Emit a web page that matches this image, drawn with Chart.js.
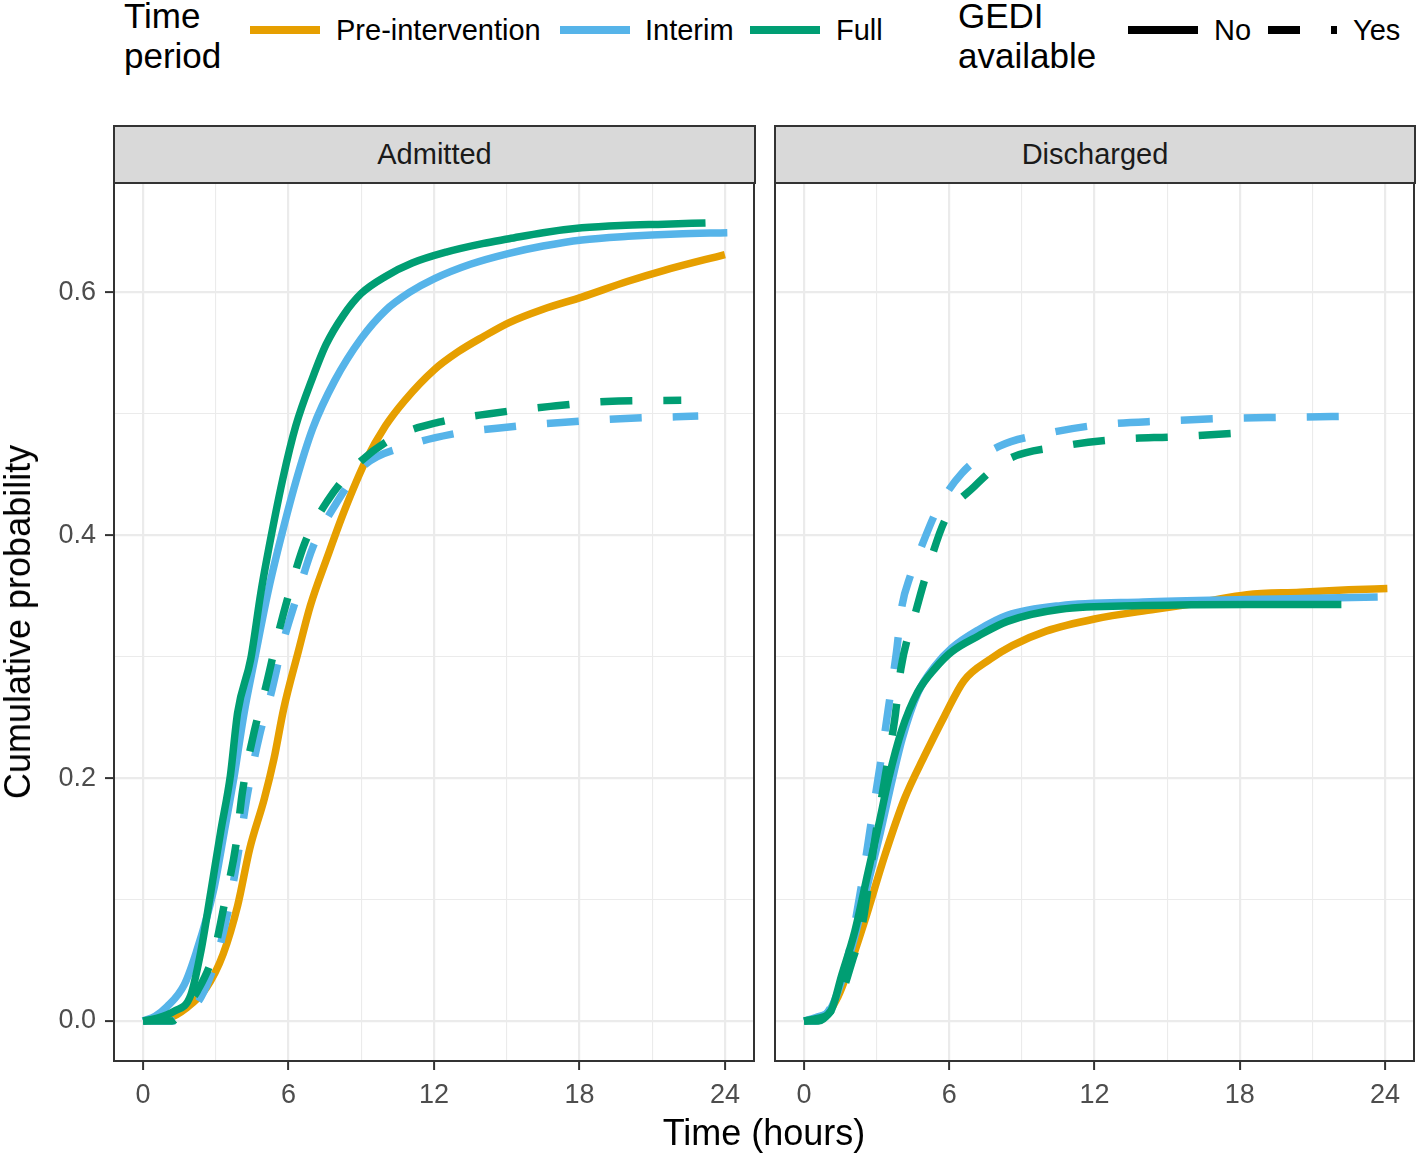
<!DOCTYPE html>
<html><head><meta charset="utf-8">
<script src="https://cdn.jsdelivr.net/npm/chart.js@4.4.0/dist/chart.umd.min.js"></script>
<style>
html,body{margin:0;padding:0;background:#fff;}
body{width:1418px;height:1156px;position:relative;overflow:hidden;font-family:"Liberation Sans",Arial,Helvetica,sans-serif;}
.abs{position:absolute;white-space:nowrap;}
.ltitle{font-size:35px;line-height:40px;color:#000;}
.llab{font-size:29px;line-height:29px;color:#000;}
.key{position:absolute;height:8px;top:26px;}
.strip{position:absolute;top:125px;height:59px;box-sizing:border-box;background:#D9D9D9;border:2px solid #333;display:flex;align-items:center;justify-content:center;font-size:29px;color:#1A1A1A;}
canvas{position:absolute;top:183px;}
</style>
</head><body>
<div class="abs ltitle" style="left:124px;top:-4px;">Time<br>period</div>
<div class="key" style="left:250px;width:70px;background:#E69F00;"></div>
<div class="abs llab" id="lab0" style="left:336px;top:16px;"></div>
<div class="key" style="left:560px;width:70px;background:#56B4E9;"></div>
<div class="abs llab" id="lab1" style="left:645px;top:16px;"></div>
<div class="key" style="left:750px;width:70px;background:#009E73;"></div>
<div class="abs llab" id="lab2" style="left:836px;top:16px;"></div>
<div class="abs ltitle" style="left:958px;top:-4px;">GEDI<br>available</div>
<div class="key" style="left:1128px;width:70px;background:#000;"></div>
<div class="abs llab" id="glab0" style="left:1214px;top:16px;"></div>
<div class="key" style="left:1268px;width:32px;background:#000;"></div>
<div class="key" style="left:1331px;width:6px;background:#000;"></div>
<div class="abs llab" id="glab1" style="left:1353px;top:16px;"></div>

<div class="strip" id="strip0" style="left:113px;width:643px;"></div>
<div class="strip" id="strip1" style="left:774px;width:642px;"></div>

<canvas id="c1" width="760" height="973" style="left:0px;"></canvas>
<canvas id="c2" width="658" height="973" style="left:760px;"></canvas>

<div class="abs" style="left:764px;top:1115px;transform:translateX(-50%);font-size:36px;line-height:36px;color:#000;">Time (hours)</div>
<div class="abs" style="left:18px;top:622px;transform:translate(-50%,-50%) rotate(-90deg);font-size:36px;line-height:36px;color:#000;">Cumulative probability</div>

<script>
// ---- Labels ----
const periodLabels = ['Pre-intervention', 'Interim', 'Full'];
const gediLabels = ['No', 'Yes'];
const facetLabels = ['Admitted', 'Discharged'];
const xTickValues = [0, 6, 12, 18, 24];
const xTickLabels = ['0', '6', '12', '18', '24'];
const xMinorValues = [3, 9, 15, 21];
const yTickValues = [0, 0.2, 0.4, 0.6];
const yTickLabels = ['0.0', '0.2', '0.4', '0.6'];
const yMinorValues = [0.1, 0.3, 0.5];

// ---- Admitted panel ----
const admPreNoT = [0, 1.0, 1.8, 2.6, 3.3, 3.9, 4.4, 5.0, 5.4, 5.8, 6.4, 6.9, 7.6, 8.3, 9.2, 10.0, 10.8, 12.0, 13.0, 14.0, 15.1, 16.5, 18.1, 20.0, 21.5, 24.0];
const admPreNoP = [0, 0.002, 0.011, 0.027, 0.055, 0.095, 0.142, 0.183, 0.216, 0.257, 0.304, 0.342, 0.382, 0.42, 0.462, 0.49, 0.511, 0.536, 0.551, 0.563, 0.575, 0.586, 0.596, 0.609, 0.618, 0.631];
const admIntNoT = [0, 0.5, 1.0, 1.7, 2.2, 2.9, 3.35, 3.76, 4.17, 4.6, 5.15, 5.55, 6.3, 7.0, 7.9, 9.0, 10.0, 11.0, 12.0, 13.5, 15.1, 16.5, 18.1, 20.0, 22.0, 24.1];
const admIntNoP = [0, 0.004, 0.012, 0.03, 0.057, 0.107, 0.156, 0.202, 0.254, 0.298, 0.353, 0.387, 0.444, 0.488, 0.527, 0.562, 0.585, 0.6, 0.611, 0.623, 0.632, 0.638, 0.643, 0.646, 0.648, 0.649];
const admFullNoT = [0, 0.5, 1.27, 1.96, 2.38, 2.8, 3.2, 3.6, 3.9, 4.44, 4.86, 5.1, 5.76, 6.3, 7.0, 7.55, 8.26, 9.0, 10.0, 11.1, 12.5, 14.0, 15.1, 16.5, 18.1, 19.7, 21.5, 23.2];
const admFullNoP = [0, 0.002, 0.008, 0.021, 0.057, 0.107, 0.156, 0.202, 0.254, 0.298, 0.353, 0.38, 0.446, 0.49, 0.53, 0.557, 0.581, 0.599, 0.613, 0.624, 0.633, 0.64, 0.644, 0.649, 0.653, 0.655, 0.656, 0.657];
const admIntYesT = [0, 1.2, 1.8, 2.4, 3.0, 3.5, 3.9, 4.3, 4.8, 5.27, 5.75, 6.37, 7.0, 7.9, 9.1, 10.8, 12.7, 15.1, 17.4, 19.9, 22.9];
const admIntYesP = [0, 0, 0.006, 0.02, 0.05, 0.09, 0.135, 0.186, 0.235, 0.269, 0.31, 0.351, 0.39, 0.424, 0.457, 0.473, 0.483, 0.489, 0.493, 0.496, 0.498];
const admFullYesT = [0, 1.2, 1.6, 2.25, 2.93, 3.4, 3.83, 4.1, 4.58, 5.06, 5.54, 6.09, 6.7, 7.6, 8.83, 10.4, 12.2, 14.3, 16.8, 19.1, 22.2];
const admFullYesP = [0, 0, 0.008, 0.025, 0.057, 0.101, 0.145, 0.189, 0.238, 0.275, 0.316, 0.357, 0.395, 0.428, 0.458, 0.481, 0.493, 0.5, 0.506, 0.51, 0.511];

// ---- Discharged panel ----
const disPreNoT = [0, 0.8, 1.4, 1.85, 2.5, 3.33, 4.15, 4.97, 5.8, 6.6, 7.7, 8.6, 10.0, 12.0, 14.5, 16.5, 18.3, 20.5, 22.5, 24.1];
const disPreNoP = [0, 0.003, 0.02, 0.043, 0.082, 0.136, 0.183, 0.218, 0.251, 0.28, 0.298, 0.309, 0.321, 0.331, 0.339, 0.345, 0.351, 0.353, 0.355, 0.356];
const disIntNoT = [0, 0.5, 1.1, 1.6, 2.1, 2.7, 3.15, 3.6, 4.05, 4.7, 5.4, 6.1, 7.2, 8.4, 10.6, 14.0, 18.3, 21.0, 23.7];
const disIntNoP = [0, 0.003, 0.01, 0.036, 0.07, 0.118, 0.155, 0.195, 0.232, 0.27, 0.292, 0.307, 0.322, 0.334, 0.342, 0.345, 0.347, 0.348, 0.349];
const disFullNoT = [0, 0.5, 1.1, 1.56, 2.1, 2.65, 3.08, 3.5, 4.03, 4.7, 5.4, 6.1, 7.2, 8.4, 10.6, 14.0, 18.3, 22.2];
const disFullNoP = [0, 0.002, 0.008, 0.038, 0.074, 0.123, 0.161, 0.2, 0.239, 0.271, 0.29, 0.304, 0.317, 0.329, 0.339, 0.342, 0.343, 0.343];
const disIntYesT = [0, 0.5, 1.0, 1.5, 2.0, 2.4, 2.8, 3.14, 3.48, 3.82, 4.03, 4.4, 4.8, 5.5, 6.52, 8.05, 10.1, 12.3, 14.9, 17.3, 19.8, 22.9];
const disIntYesP = [0, 0, 0.008, 0.03, 0.07, 0.115, 0.167, 0.21, 0.257, 0.304, 0.34, 0.367, 0.388, 0.421, 0.451, 0.473, 0.484, 0.491, 0.494, 0.496, 0.497, 0.498];
const disFullYesT = [0, 0.6, 1.1, 1.6, 2.0, 2.38, 2.93, 3.34, 3.75, 4.0, 4.6, 5.16, 5.84, 7.03, 8.38, 10.6, 13.0, 15.4, 17.9, 18.5];
const disFullYesP = [0, 0, 0.008, 0.025, 0.05, 0.076, 0.15, 0.2, 0.249, 0.29, 0.336, 0.375, 0.413, 0.44, 0.462, 0.473, 0.479, 0.481, 0.484, 0.485];

// ---- Styles ----
const periodColors = ['#E69F00', '#56B4E9', '#009E73'];
const DASH = [32, 31];
const LW = 7.5;
const FONT = '"Liberation Sans", Arial, Helvetica, sans-serif';
const X_MIN = -1.2, X_MAX = 25.2;
const Y_MIN = -0.0329, Y_MAX = 0.6899;

// fill html text
periodLabels.forEach((l, i) => document.getElementById('lab' + i).textContent = l);
gediLabels.forEach((l, i) => document.getElementById('glab' + i).textContent = l);
facetLabels.forEach((l, i) => document.getElementById('strip' + i).textContent = l);

function pts(t, p) { return t.map((v, i) => ({ x: v, y: p[i] })); }
function ds(t, p, period, dashed, order) {
  return {
    data: pts(t, p), borderColor: periodColors[period], backgroundColor: periodColors[period],
    borderWidth: LW, borderDash: dashed ? DASH : [], pointRadius: 0, fill: false,
    cubicInterpolationMode: 'monotone', borderJoinStyle: 'round', borderCapStyle: 'butt', order: order
  };
}

const borderPlugin = {
  id: 'panelBorder',
  afterDatasetsDraw(chart) {
    const { ctx, chartArea: a } = chart;
    ctx.save();
    ctx.strokeStyle = '#333333';
    ctx.lineWidth = 2;
    ctx.strokeRect(a.left, a.top, a.right - a.left, a.bottom - a.top);
    ctx.restore();
  }
};

function makeChart(id, datasets, showY, yWidth, padRight) {
  const isMajor = c => c.tick && c.tick.major;
  return new Chart(document.getElementById(id), {
    type: 'line',
    data: { datasets },
    options: {
      responsive: false, animation: false, devicePixelRatio: 1,
      layout: { padding: { left: 0, right: padRight, top: 0, bottom: 0 } },
      plugins: { legend: { display: false }, tooltip: { enabled: false } },
      scales: {
        x: {
          type: 'linear', min: X_MIN, max: X_MAX,
          afterBuildTicks: s => {
            s.ticks = xTickValues.map(v => ({ value: v, major: true }))
              .concat(xMinorValues.map(v => ({ value: v, major: false })))
              .sort((a, b) => a.value - b.value);
          },
          afterFit: s => { s.height = 95; s.paddingLeft = 0; s.paddingRight = 0; s.paddingTop = 0; s.paddingBottom = 0; },
          grid: {
            color: '#EBEBEB', lineWidth: c => isMajor(c) ? 2.2 : 1.1,
            drawTicks: true, tickLength: 9, tickWidth: 2,
            tickColor: c => isMajor(c) ? '#333333' : 'rgba(0,0,0,0)'
          },
          border: { display: false },
          ticks: {
            autoSkip: false, maxRotation: 0, minRotation: 0, color: '#4D4D4D', padding: 9,
            font: { family: FONT, size: 27 },
            callback: v => { const i = xTickValues.indexOf(v); return i >= 0 ? xTickLabels[i] : ''; }
          }
        },
        y: {
          type: 'linear', min: Y_MIN, max: Y_MAX,
          afterBuildTicks: s => {
            s.ticks = yTickValues.map(v => ({ value: v, major: true }))
              .concat(yMinorValues.map(v => ({ value: v, major: false })))
              .sort((a, b) => a.value - b.value);
          },
          afterFit: s => { s.width = yWidth; s.paddingLeft = 0; s.paddingRight = 0; s.paddingTop = 0; s.paddingBottom = 0; },
          grid: {
            color: '#EBEBEB', lineWidth: c => isMajor(c) ? 2.2 : 1.1,
            drawTicks: showY, tickLength: 9, tickWidth: 2,
            tickColor: c => isMajor(c) ? '#333333' : 'rgba(0,0,0,0)'
          },
          border: { display: false },
          ticks: {
            display: showY, autoSkip: false, color: '#4D4D4D', padding: 9,
            font: { family: FONT, size: 27 },
            callback: v => { const i = yTickValues.indexOf(v); return i >= 0 ? yTickLabels[i] : ''; }
          }
        }
      }
    },
    plugins: [borderPlugin]
  });
}

makeChart('c1', [
  ds(admPreNoT, admPreNoP, 0, false, 5),
  ds(admIntNoT, admIntNoP, 1, false, 4),
  ds(admIntYesT, admIntYesP, 1, true, 3),
  ds(admFullNoT, admFullNoP, 2, false, 2),
  ds(admFullYesT, admFullYesP, 2, true, 1)
], true, 114, 6);

makeChart('c2', [
  ds(disPreNoT, disPreNoP, 0, false, 5),
  ds(disIntNoT, disIntNoP, 1, false, 4),
  ds(disIntYesT, disIntYesP, 1, true, 3),
  ds(disFullNoT, disFullNoP, 2, false, 2),
  ds(disFullYesT, disFullYesP, 2, true, 1)
], false, 15, 4);
</script>
</body></html>
